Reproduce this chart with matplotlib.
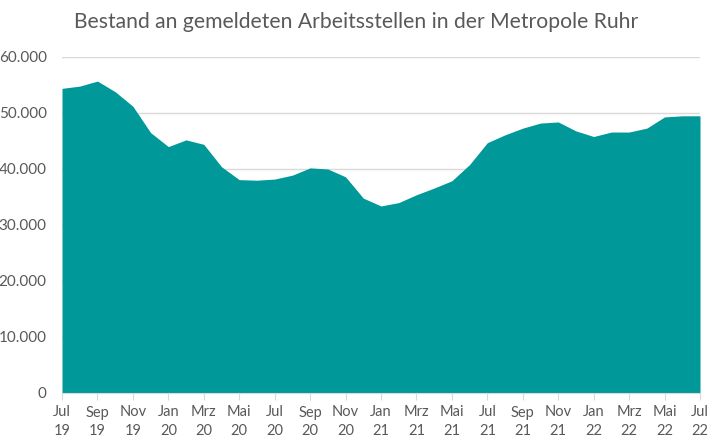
import numpy as np
import matplotlib
matplotlib.use("Agg")
import matplotlib.pyplot as plt
from matplotlib.ticker import FuncFormatter, MultipleLocator

plt.rcParams['font.family'] = ['Lato', 'DejaVu Sans']

# monthly stock of registered vacancies, Jul 2019 - Jul 2022
months = ['Jul', 'Aug', 'Sep', 'Okt', 'Nov', 'Dez', 'Jan', 'Feb', 'Mrz', 'Apr', 'Mai', 'Jun']
years = ['19', '20', '21', '22']
values = [54400, 54800, 55700, 53800, 51200, 46500, 44000, 45200, 44400, 40400,
          38100, 38000, 38200, 38900, 40200, 40000, 38600, 34800, 33400, 34000,
          35400, 36600, 37900, 40800, 44700, 46100, 47300, 48200, 48400, 46800,
          45800, 46600, 46600, 47300, 49300, 49500, 49500]

labels = []
for i in range(len(values)):
    m = months[i % 12]
    y = years[(i + 6) // 12]
    labels.append(m + '\n' + y)

x = np.arange(len(values))
teal = '#009898'
grey = '#595959'

fig = plt.figure(figsize=(7.09, 4.37), dpi=100)
ax = fig.add_axes([62 / 709, 1 - 393 / 437, 638 / 709, 336 / 437])

ax.fill_between(x, values, 0, color=teal, linewidth=0, zorder=2)

ax.set_xlim(0, len(values) - 1)
ax.set_ylim(0, 60000)
ax.yaxis.set_major_locator(MultipleLocator(10000))
ax.yaxis.set_major_formatter(FuncFormatter(lambda v, p: f"{int(v):,}".replace(',', '.')))
ax.grid(axis='y', color='#d9d9d9', linewidth=1, zorder=0)
ax.set_axisbelow(True)

ax.set_xticks(x[::2])
ax.set_xticklabels(labels[::2], linespacing=1.45)

for s in ['top', 'right', 'left']:
    ax.spines[s].set_visible(False)
ax.spines['bottom'].set_color('#d9d9d9')

ax.tick_params(axis='y', length=0, labelsize=11, labelcolor=grey, pad=11)
ax.tick_params(axis='x', length=5, color='#d9d9d9', labelsize=10.5, labelcolor=grey, pad=4)

fig.text(356 / 709, 1 - 22 / 437, 'Bestand an gemeldeten Arbeitsstellen in der Metropole Ruhr',
         ha='center', va='center', fontsize=15.2, color=grey)

fig.savefig('out.png', dpi=100)
